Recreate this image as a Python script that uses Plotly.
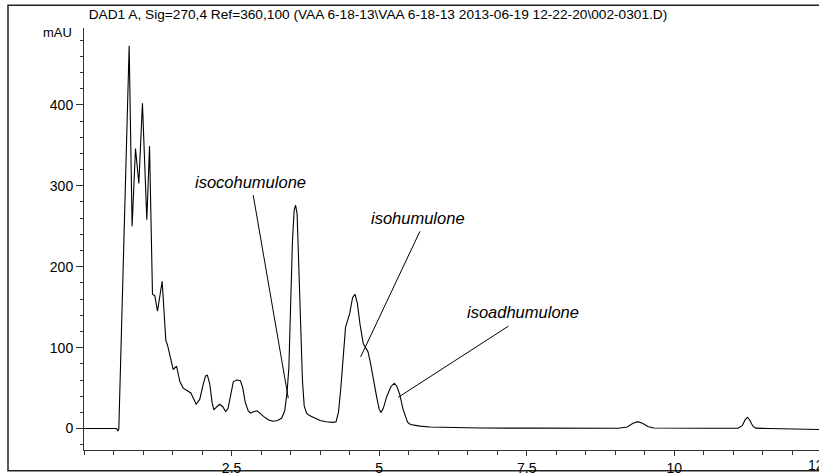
import plotly.graph_objects as go

# Retention time (min) and detector signal (mAU), DAD1 A 270 nm trace
time_min = [
    0.00, 0.55, 0.575, 0.59, 0.765, 0.815, 0.872, 0.929, 0.99, 1.064, 1.11,
    1.16, 1.20, 1.245, 1.324, 1.386, 1.415, 1.466, 1.51, 1.568, 1.624, 1.68,
    1.764, 1.81, 1.90, 1.96, 2.02, 2.06, 2.09, 2.13, 2.17, 2.20, 2.25, 2.30,
    2.35, 2.40, 2.44, 2.49, 2.53, 2.59, 2.65, 2.69, 2.73, 2.78, 2.82, 2.88,
    2.93, 2.98, 3.04, 3.12, 3.20, 3.28, 3.35, 3.40, 3.44, 3.47, 3.50, 3.53,
    3.56, 3.585, 3.61, 3.64, 3.67, 3.70, 3.73, 3.77, 3.82, 3.90, 4.00, 4.10,
    4.22, 4.27, 4.31, 4.35, 4.39, 4.43, 4.47, 4.50, 4.55, 4.59, 4.63, 4.675,
    4.73, 4.78, 4.81, 4.85, 4.90, 4.96, 5.00, 5.03, 5.07, 5.13, 5.20, 5.256,
    5.30, 5.35, 5.40, 5.44, 5.48, 5.53, 5.60, 5.69, 5.86, 6.20, 6.70, 7.50,
    8.50, 9.05, 9.20, 9.30, 9.38, 9.46, 9.55, 9.65, 10.50, 11.08, 11.15,
    11.20, 11.24, 11.28, 11.33, 11.38, 11.60, 12.00, 12.45,
]
signal_mau = [
    0.0, 0.0, -3.0, 0.0, 473.0, 250.0, 346.0, 303.0, 402.0, 258.0, 349.0,
    166.0, 164.0, 145.0, 182.0, 109.0, 103.0, 88.0, 73.0, 77.0, 58.0, 50.0,
    46.0, 44.0, 30.0, 36.0, 55.0, 65.0, 66.0, 55.0, 32.0, 23.0, 27.0, 30.0,
    27.0, 21.0, 25.0, 45.0, 58.0, 60.0, 59.0, 50.0, 33.0, 22.0, 19.0, 21.0,
    22.0, 19.0, 15.0, 11.0, 9.0, 10.0, 13.0, 22.0, 45.0, 75.0, 150.0, 230.0,
    270.0, 276.0, 265.0, 200.0, 120.0, 60.0, 28.0, 19.0, 16.0, 13.0, 10.0, 8.5,
    7.7, 8.5, 20.0, 50.0, 90.0, 125.0, 135.0, 142.0, 162.0, 166.0, 155.0, 129.0,
    105.0, 98.0, 95.0, 82.0, 60.0, 38.0, 24.0, 20.0, 25.0, 40.0, 52.0, 56.0,
    52.0, 42.0, 25.0, 15.0, 8.0, 5.0, 4.0, 3.0, 2.0, 1.5, 0.7, 0.5,
    0.2, 0.3, 2.0, 6.5, 8.5, 6.5, 2.5, 0.7, 0.3, 0.3, 3.5,
    11.0, 14.0, 10.0, 3.0, 0.5, 0.0, -0.8, -1.2,
]

# Peak labels: text position and leader-line end point (time, mAU)
peak_names = ["isocohumulone", "isohumulone", "isoadhumulone"]
label_time = [2.82, 5.65, 7.43]
label_mau = [305.0, 260.0, 143.6]
line_start_time = [2.866, 5.69, 7.188]
line_start_mau = [288.5, 243.7, 126.5]
line_end_time = [3.46, 4.686, 5.324]
line_end_mau = [37.5, 88.5, 38.7]

x_tick_vals = [2.5, 5, 7.5, 10]
x_tick_text = ["2.5", "5", "7.5", "10"]
y_tick_vals = [0, 100, 200, 300, 400]
x_range = [0, 12.45]
y_range = [-26.5, 495]

title_text = ("DAD1 A, Sig=270,4 Ref=360,100 (VAA 6-18-13\\VAA 6-18-13 "
              "2013-06-19 12-22-20\\002-0301.D)")

FONT = "Liberation Sans, Arial, sans-serif"
W, H = 819, 476
ML, MR, MT, MB = 84, 0, 28, 22
plot_w = W - ML - MR
plot_h = H - MT - MB


def px_to_paper_x(px):
    return (px - ML) / plot_w


def px_to_paper_y(py):
    return (H - MB - py) / plot_h


fig = go.Figure()
fig.add_trace(go.Scatter(
    x=time_min, y=signal_mau, mode="lines",
    line=dict(color="#000000", width=1.1),
    hoverinfo="skip", showlegend=False,
))

annotations = []
shapes = []
for name, tx, ty, sx, sy, ex, ey in zip(peak_names, label_time, label_mau,
                                        line_start_time, line_start_mau,
                                        line_end_time, line_end_mau):
    annotations.append(dict(
        x=tx, y=ty, xref="x", yref="y", text="<i>" + name + "</i>",
        showarrow=False,
        font=dict(family=FONT, size=16.5, color="#000000"),
        xanchor="center", yanchor="middle",
    ))
    shapes.append(dict(
        type="line", xref="x", yref="y", x0=sx, y0=sy, x1=ex, y1=ey,
        line=dict(color="#000000", width=1),
    ))

# unit label above the y axis
annotations.append(dict(
    x=px_to_paper_x(74), y=px_to_paper_y(33), xref="paper", yref="paper",
    text="mAU", showarrow=False, xanchor="right", yanchor="middle",
    font=dict(family=FONT, size=13, color="#000000"),
))
# last x tick label sits just past the right edge of the axis
annotations.append(dict(
    x=(12.5 - x_range[0]) / (x_range[1] - x_range[0]), y=0,
    xref="paper", yref="paper", text="12.5", showarrow=False,
    xanchor="center", yanchor="top", yshift=-5,
    font=dict(family=FONT, size=14, color="#000000"),
))

# outer border of the report frame
shapes.append(dict(
    type="rect", xref="paper", yref="paper",
    x0=px_to_paper_x(8), x1=px_to_paper_x(830),
    y0=px_to_paper_y(475), y1=px_to_paper_y(5),
    line=dict(color="#222222", width=1.5), layer="below",
))

fig.update_layout(
    width=W, height=H,
    margin=dict(l=ML, r=MR, t=MT, b=MB, pad=0),
    paper_bgcolor="#ffffff", plot_bgcolor="#ffffff",
    title=dict(text=title_text, x=378 / W, xanchor="center",
               y=1 - 14 / H, yanchor="middle",
               font=dict(family=FONT, size=13.7, color="#000000")),
    font=dict(family=FONT, size=14, color="#000000"),
    annotations=annotations, shapes=shapes,
    xaxis=dict(
        range=x_range, showgrid=False, zeroline=False,
        showline=True, linecolor="#333333", linewidth=1,
        tickvals=x_tick_vals, ticktext=x_tick_text,
        ticks="outside", ticklen=5, tickcolor="#333333",
        tickfont=dict(family=FONT, size=14),
        minor=dict(dtick=0.5, tick0=0, ticks="outside", ticklen=4,
                   tickcolor="#333333", showgrid=False),
    ),
    yaxis=dict(
        range=y_range, showgrid=False, zeroline=False,
        showline=True, linecolor="#333333", linewidth=1,
        tickvals=y_tick_vals, ticks="outside", ticklen=7,
        tickcolor="#333333", tickfont=dict(family=FONT, size=14),
        minor=dict(dtick=20, tick0=0, ticks="outside", ticklen=3,
                   tickcolor="#333333", showgrid=False),
    ),
)

fig.write_html("out.html")
